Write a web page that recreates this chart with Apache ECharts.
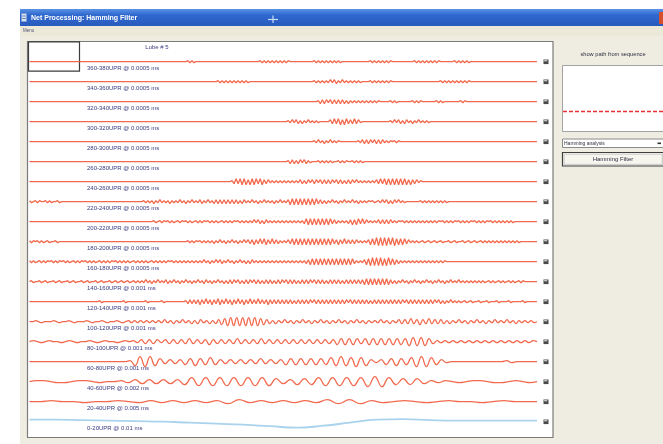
<!DOCTYPE html>
<html>
<head>
<meta charset="utf-8">
<script src="https://cdn.jsdelivr.net/npm/echarts@6/dist/echarts.min.js"></script>
<style>
  html, body { margin: 0; padding: 0; background: #ffffff; }
  #chart { width: 663px; height: 444px; }
</style>
</head>
<body>
<div id="chart"></div>
<script>
// Filtered band traces, one per UPR band (amplitudes in screen units, sampled evenly across the time window)
const traceLabels = [
  '360-380UPR @ 0.0005 ms', '340-360UPR @ 0.0005 ms', '320-340UPR @ 0.0005 ms',
  '300-320UPR @ 0.0005 ms', '280-300UPR @ 0.0005 ms', '260-280UPR @ 0.0005 ms',
  '240-260UPR @ 0.0005 ms', '220-240UPR @ 0.0005 ms', '200-220UPR @ 0.0005 ms',
  '180-200UPR @ 0.0005 ms', '160-180UPR @ 0.0005 ms', '140-160UPR @ 0.001 ms',
  '120-140UPR @ 0.001 ms', '100-120UPR @ 0.001 ms', '80-100UPR @ 0.001 ms',
  '60-80UPR @ 0.001 ms', '40-60UPR @ 0.002 ms', '20-40UPR @ 0.005 ms',
  '0-20UPR @ 0.01 ms'
];

const b360_380 = [
  0,0,0,0,0,0,0,0,0,0,0,0,0,0,0,0,0,0,0,0,0,0,0,0,0,
  0,0,0,0,0,0,0,0,0,0,0,0,0,0,0,0,0,0,0,0,0,0,0,0,0,
  0,0,0,0,0,0,0,0,0,0,0,0,0,0,0,0,0,0,0,0,0,0,0,0,0,
  0,0,0,0,1,-1,1,-1,0,0,0,0,0,0,0,0,0,0,0,0,0,0,0,0,0,
  0,0,0,0,0,0,0,0,0,0,0,0,0,0,0,1,-1,1,-1,1,-1,1,-1,1,-1,
  1,-1,1,-1,1,0,0,0,0,0,0,0,0,0,0,0,0,1,-1,1,-1,1,-1,1,-1,
  1,-1,1,-1,1,-1,0,0,0,0,0,0,0,0,0,0,0,0,0,0,1,-1,1,-1,1,
  -1,1,-1,1,-1,1,0,0,0,0,0,0,0,0,0,0,0,1,-1,1,-1,1,-1,1,-1,
  1,-1,1,-1,1,0,0,0,0,0,0,0,1,-1,1,-1,1,-1,1,-1,0,0,0,0,0,
  0,0,0,0,0,0,0,0,0,0,0,0,0,0,0,0,0,0,0,0,0,0,0,0,0,
  0,0,0,0
];
const b340_360 = [
  0,0,0,0,0,0,0,0,0,0,0,0,0,0,0,0,0,0,0,0,0,0,0,0,0,
  0,0,0,0,0,0,0,0,0,0,0,0,0,0,0,0,0,0,0,0,0,0,0,0,0,
  0,0,0,0,0,0,0,0,0,0,0,0,0,0,0,0,0,0,0,0,0,0,0,0,0,
  0,0,0,0,0,0,0,0,0,0,0,0,0,0,0,0,0,0,0,1,-1,1,-1,1,-1,
  1,-1,1,-1,1,-1,1,-1,1,-1,0,0,0,0,0,0,0,0,0,0,0,0,0,0,0,
  0,0,0,0,0,0,0,0,0,0,0,0,0,0,0,0,0,1,-1,1,-1,1,-1,1,-1,
  2,-1,2,-2,1,-1,2,-1,1,-1,1,-1,1,-1,1,-1,0,0,0,0,1,-1,1,-1,1,
  -1,1,-1,1,-1,1,0,0,0,0,0,0,0,0,0,0,0,0,0,0,0,0,0,0,0,
  0,0,0,0,0,1,-1,1,-1,1,-1,1,-1,1,-1,1,-1,1,-1,1,0,0,0,0,0,
  0,0,0,0,0,0,0,0,0,0,0,0,0,0,0,0,0,0,0,0,0,0,0,0,0,
  0,0,0,0
];
const b320_340 = [
  0,0,0,0,0,0,0,0,0,0,0,0,0,0,0,0,0,0,0,0,0,0,0,0,0,
  0,0,0,0,0,0,0,0,0,0,0,0,0,0,0,0,0,0,0,0,0,0,0,0,0,
  0,0,0,0,0,0,0,0,0,0,0,0,0,0,0,0,0,0,0,0,0,0,0,0,0,
  0,0,0,0,0,0,0,0,0,0,0,0,0,0,0,0,0,0,0,0,0,0,0,0,0,
  0,0,0,0,0,0,0,0,0,0,0,0,0,0,0,0,0,0,0,0,0,0,0,0,0,
  0,0,0,0,0,0,0,0,0,0,0,0,0,0,0,0,0,0,0,1,-2,2,-2,2,-1,
  2,-2,2,-2,2,-2,2,-2,1,-2,1,-1,1,-1,1,-1,1,-1,1,-1,1,-1,1,-1,1,
  0,0,0,0,0,1,-1,1,-1,0,0,0,0,0,0,0,1,-1,1,-1,1,0,0,0,0,
  0,0,0,1,-1,1,-1,0,0,0,0,0,0,0,0,1,-1,1,0,0,0,0,0,0,0,
  0,0,0,0,0,0,0,0,0,0,0,0,0,0,0,0,0,0,0,0,0,0,0,0,0,
  0,0,0,0
];
const b300_320 = [
  0,0,0,0,0,0,0,0,0,0,0,0,0,0,0,0,0,0,0,0,0,0,0,0,0,
  0,0,0,0,0,0,0,0,0,0,0,0,0,0,0,0,0,0,0,0,0,0,0,0,0,
  0,0,0,0,0,0,0,0,0,0,0,0,0,0,0,0,0,0,0,0,0,0,0,0,0,
  0,0,0,0,0,0,0,0,0,0,0,0,0,0,0,0,0,0,0,0,0,0,0,0,0,
  0,0,0,0,0,0,0,0,0,0,0,0,0,0,0,0,0,0,0,0,0,0,0,0,0,
  0,0,0,0,1,-1,2,-1,2,-2,1,-2,1,-1,2,-1,1,-1,1,-1,0,0,0,0,0,
  2,-2,3,-2,3,-3,2,-3,3,-2,2,-2,3,-2,2,-1,0,0,0,0,0,0,0,0,0,
  0,0,0,0,0,1,-1,2,-1,2,-2,1,-2,2,-1,1,-2,1,-1,2,-1,1,-1,1,-1,
  0,0,0,0,0,0,0,0,0,0,0,0,0,0,0,0,0,0,0,0,0,0,0,0,0,
  0,0,0,0,0,0,0,0,0,0,0,0,0,0,0,0,0,0,0,0,0,0,0,0,0,
  0,0,0,0
];
const b280_300 = [
  0,0,0,0,0,0,0,0,0,0,0,0,0,0,0,0,0,0,0,0,0,0,0,0,0,
  0,0,0,0,0,0,0,0,0,0,0,0,0,0,0,0,0,0,0,0,0,0,0,0,0,
  0,0,0,0,0,0,0,0,0,0,0,0,0,0,0,0,0,0,0,0,0,0,0,0,0,
  0,0,0,0,0,0,0,0,0,0,0,0,0,0,0,0,0,0,0,0,0,0,0,0,0,
  0,0,0,0,0,0,0,0,0,0,0,0,0,0,0,0,0,0,0,0,0,0,0,0,0,
  0,0,0,0,0,0,0,0,0,0,0,0,0,0,0,0,0,1,-1,2,-1,1,-2,1,-1,
  2,-1,1,-1,1,0,0,0,0,0,0,0,0,0,1,-1,2,-2,2,-2,2,-1,2,-2,2,
  -2,2,-1,1,-1,1,0,1,-1,1,0,0,0,0,0,0,0,0,0,0,0,0,0,0,0,
  0,0,0,0,0,0,0,0,0,0,0,0,0,0,0,0,0,0,0,0,0,0,0,0,0,
  0,0,0,0,0,0,0,0,0,0,0,0,0,0,0,0,0,0,0,0,0,0,0,0,0,
  0,0,0,0
];
const b260_280 = [
  0,0,0,0,0,0,0,0,0,0,0,0,0,0,0,0,0,0,0,0,0,0,0,0,0,
  0,0,0,0,0,0,0,0,0,0,0,0,0,0,0,0,0,0,0,0,0,0,0,0,0,
  0,0,0,0,0,0,0,0,0,0,0,0,0,0,0,0,0,0,0,0,0,0,0,0,0,
  0,0,0,0,0,0,0,0,0,0,0,0,0,0,0,0,0,0,0,0,0,0,0,0,0,
  0,0,0,0,0,0,0,0,0,0,0,0,0,0,0,0,0,0,0,0,0,0,0,0,0,
  0,0,0,0,1,-2,2,-2,1,-2,2,-1,2,-2,1,-1,0,0,0,1,-1,1,-1,1,-1,
  1,-1,0,0,1,-1,1,-1,1,0,0,1,-1,1,-1,1,-1,0,0,0,0,0,0,0,0,
  0,0,0,0,0,0,0,0,0,0,0,0,0,0,0,0,0,0,0,0,0,0,0,0,0,
  0,0,0,0,0,0,0,0,0,0,0,0,0,0,0,0,0,0,0,0,0,0,0,0,0,
  0,0,0,0,0,0,0,0,0,0,0,0,0,0,0,0,0,0,0,0,0,0,0,0,0,
  0,0,0,0
];
const b240_260 = [
  0,0,0,0,0,0,0,0,0,0,0,0,0,0,0,0,0,0,0,0,0,0,0,0,0,
  0,0,0,0,0,0,0,0,0,0,0,0,0,0,0,0,0,0,0,0,0,0,0,0,0,
  0,0,0,0,0,0,0,0,0,0,0,0,0,0,0,0,0,0,0,0,0,0,0,0,0,
  0,0,0,0,0,0,0,0,0,0,0,0,0,0,0,0,0,0,0,0,0,0,0,0,0,
  0,1,-2,3,-2,3,-3,3,-3,2,-3,3,-3,3,-2,3,-3,2,-2,2,-1,1,-1,1,-1,
  1,-1,1,-1,1,-1,1,-1,1,-1,2,-2,1,-2,2,-1,2,-2,2,-1,2,-2,2,-2,2,
  -2,2,-1,2,-2,2,-2,1,-2,2,-2,2,-1,2,-1,1,-1,1,-1,1,-1,1,-1,2,-2,
  3,-2,3,-3,3,-3,3,-3,3,-3,3,-3,3,-3,2,-3,2,-2,2,-1,1,0,0,0,0,
  0,0,0,0,0,0,0,0,0,0,0,0,0,0,0,0,0,0,0,0,0,0,0,0,0,
  0,0,0,0,0,0,0,0,0,0,0,0,0,0,0,0,0,0,0,0,0,0,0,0,0,
  0,0,0,0
];
const b220_240 = [
  1,-1,0,1,-1,1,0,0,1,-1,1,-1,0,0,1,-1,0,0,0,0,0,0,0,0,0,
  0,0,0,0,0,0,0,0,0,0,0,0,0,0,0,0,0,0,0,0,0,0,0,0,0,
  0,0,0,0,0,0,0,1,-1,1,-1,1,-2,1,-1,2,-1,1,-1,1,-2,1,-1,1,-1,
  2,-1,1,-2,1,-1,2,-1,1,-1,2,-2,1,-1,2,-1,1,-2,2,-2,2,-2,2,-2,2,
  -2,2,-2,2,-2,1,-2,2,-1,1,-1,2,-1,1,-2,1,-1,2,-1,1,-1,1,-2,1,-1,
  2,-1,1,-1,2,-3,3,-3,3,-3,3,-3,3,-3,3,-3,3,-3,3,-2,2,-2,1,-2,1,
  -1,2,-1,1,-2,1,-1,2,-1,1,-1,2,-1,1,-2,1,-1,1,-1,1,0,1,-1,0,1,
  -1,2,-1,2,-2,1,-2,2,-1,2,-1,1,-1,0,0,0,0,0,0,0,1,-1,1,-1,1,
  -1,1,-1,1,-1,1,-1,1,-1,0,0,0,0,0,0,0,0,0,0,0,0,0,0,0,0,
  0,0,0,0,0,0,0,0,0,0,0,0,0,0,0,0,0,0,0,0,0,0,0,0,0,
  0,0,0,0
];
const b200_220 = [
  0,0,0,0,0,0,0,0,0,0,0,0,0,0,0,0,0,0,0,0,0,0,0,0,0,
  0,0,0,0,0,0,0,0,0,0,0,0,0,0,0,0,0,0,0,0,0,0,0,0,0,
  0,0,0,0,0,0,0,0,0,0,0,0,1,-1,0,1,-1,1,0,1,-1,1,-1,0,1,
  -1,1,0,1,-1,1,-1,0,1,-1,1,-1,1,0,1,-1,1,-1,1,-1,0,1,-1,1,-1,
  1,-1,1,0,1,-1,1,-1,1,-1,1,-1,2,-1,2,-2,1,-2,2,-1,1,-1,1,-1,1,
  -1,1,-1,1,-1,1,-1,1,-1,1,-1,1,-2,3,-3,3,-3,3,-3,3,-3,3,-3,3,-3,
  3,-2,2,-2,1,-1,1,-1,1,-2,2,-3,2,-3,3,-2,3,-2,2,-1,1,-1,1,-1,2,
  -2,2,-2,2,-2,2,-1,1,-1,1,0,1,-1,1,-1,1,-1,1,-1,1,-1,1,-1,1,-1,
  1,-1,1,-1,1,0,1,-1,1,-1,1,-1,1,0,1,-1,1,-1,1,-1,1,0,1,-1,1,
  -1,1,-1,1,0,1,-1,1,-1,1,-1,1,-1,1,-1,1,-1,0,0,0,0,0,0,0,0,
  0,0,0,0
];
const b180_200 = [
  1,-1,1,0,1,-1,1,-1,0,1,-1,0,0,1,-1,0,0,0,0,0,0,0,0,0,0,
  0,0,0,0,0,0,0,0,0,0,0,0,0,0,0,0,0,0,0,0,0,0,0,0,0,
  0,0,0,0,0,0,0,0,0,0,0,0,0,0,0,0,0,0,0,0,0,0,0,0,0,
  0,0,0,0,1,-1,1,-1,1,0,1,-1,1,-1,1,-1,1,-2,1,-1,2,-1,1,-2,1,
  -1,2,-1,1,-2,1,-1,2,-1,2,-2,2,-3,2,-2,3,-2,3,-3,2,-2,3,-2,2,-2,
  1,-1,1,-1,2,-2,3,-3,3,-3,3,-3,3,-3,3,-3,3,-3,3,-3,3,-3,3,-3,3,
  -3,3,-2,2,-3,2,-2,3,-2,2,-2,2,-2,2,-1,1,-1,1,-1,2,-3,3,-3,4,-4,
  4,-4,4,-4,4,-3,4,-4,3,-3,3,-3,3,-2,2,-1,1,-1,1,-1,0,1,-1,0,1,
  -1,0,1,-1,0,1,-1,0,0,1,-1,0,1,-1,0,0,1,-1,0,1,-1,0,1,-1,0,
  1,-1,1,-1,1,-1,1,-1,1,-1,1,-1,1,-1,1,-1,1,-1,1,-1,0,0,0,0,0,
  0,0,0,0
];
const b160_180 = [
  1,-1,1,-1,0,1,-1,1,-1,1,0,1,-1,1,-1,1,0,1,-1,1,-1,0,1,-1,1,
  -1,1,0,1,-1,1,-1,1,-1,0,1,-1,1,-1,1,-1,1,0,1,-1,1,-1,1,-1,1,
  -1,0,1,-1,1,-1,1,-1,1,-1,0,1,-1,1,-1,1,-1,1,-1,1,0,1,-1,1,-1,
  1,-1,1,-1,1,-1,1,-1,1,-1,1,-1,2,-1,1,-2,1,-1,2,-1,2,-2,1,-1,2,
  -1,1,-2,1,-1,2,-1,1,-2,1,-2,2,-1,1,-1,1,-1,1,-1,1,-1,1,-1,1,-1,
  1,-1,1,-1,1,-1,1,-1,1,-1,1,-1,1,-2,2,-3,3,-3,3,-3,3,-3,3,-3,3,
  -3,3,-3,3,-3,3,-3,3,-3,3,-3,3,-2,1,-1,1,-1,2,-3,3,-4,4,-4,4,-4,
  4,-4,3,-4,4,-3,3,-3,2,-2,1,-1,1,-1,1,-1,1,-1,1,-1,1,-1,1,-1,1,
  -1,1,-1,1,-1,1,-1,1,0,0,0,0,0,0,0,0,0,0,0,0,0,0,0,0,0,
  0,0,0,0,0,0,0,0,0,0,0,0,0,0,0,0,0,0,0,0,0,0,0,0,0,
  0,0,0,0
];
const b140_160 = [
  0,1,-1,0,0,1,-1,0,1,-1,0,0,1,-1,0,1,-1,0,0,1,-1,0,1,-1,0,
  0,1,-1,0,1,-1,0,0,1,-1,0,1,-1,0,0,1,-1,0,1,-1,0,1,-1,0,1,
  -1,0,1,-1,1,-1,1,-1,2,-1,1,-2,1,-1,2,-1,1,-1,2,-2,1,-1,2,-1,1,
  -2,1,-1,2,-1,1,-2,1,-1,2,-1,1,-2,2,-1,1,-2,1,-1,2,-1,1,-2,1,-2,
  2,-2,2,-1,2,-2,1,-2,2,-2,2,-1,2,-2,2,-2,1,-2,2,-2,2,-2,1,-2,2,
  -2,2,-1,2,-2,2,-2,2,-2,1,-2,2,-2,2,-2,2,-1,2,-2,2,-2,2,-2,1,-2,
  2,-2,2,-2,2,-2,1,-2,2,-2,2,-2,2,-2,2,-2,2,-3,3,-3,3,-3,3,-3,3,
  -3,3,-3,3,-3,2,-2,1,-2,1,-1,2,-1,1,-2,1,-1,2,-1,1,-2,1,-1,2,-1,
  1,-2,1,-1,2,-1,1,-2,1,-1,2,-1,1,-1,2,-1,1,-1,1,-1,1,-1,1,-1,1,
  -1,1,-1,0,1,-1,1,-1,0,1,-1,1,-1,0,1,-1,1,-1,0,1,-1,1,0,0,0,
  0,0,0,0
];
const b120_140 = [
  0,0,0,0,0,0,0,0,0,0,0,0,0,0,0,0,0,0,0,0,0,0,0,0,0,
  0,0,0,0,0,0,0,0,0,0,1,-1,0,0,0,0,0,0,0,0,0,0,1,-1,0,
  0,0,0,0,0,0,0,0,1,-1,0,0,0,0,0,0,1,-1,0,0,0,0,0,0,0,
  0,0,0,1,-2,2,-2,2,-2,2,-3,2,-2,3,-2,2,-3,2,-2,3,-3,2,-2,3,-2,
  2,-3,2,-2,3,-2,2,-3,2,-2,3,-2,2,-2,3,-2,2,-2,2,-3,2,-2,2,-2,2,
  -2,2,-2,2,-2,2,-2,1,-2,2,-2,2,-2,2,-2,2,-1,2,-2,2,-2,2,-2,2,-2,
  2,-2,2,-2,2,-2,2,-2,2,-1,2,-2,2,-2,2,-2,2,-2,2,-2,1,-2,2,-2,2,
  -2,2,-2,2,-2,2,-2,2,-2,2,-2,2,-1,2,-2,2,-2,2,-2,2,-2,2,-2,2,-2,
  2,-2,2,-1,2,-2,1,-2,1,-1,2,-1,1,-1,1,-1,0,1,-1,0,1,-1,0,0,1,
  -1,0,0,1,-1,0,0,0,1,-1,0,0,0,0,1,-1,0,0,0,0,0,1,-1,0,0,
  0,0,0,0
];
const b100_120 = [
  0,0,1,0,-1,0,0,0,1,0,-1,0,0,1,0,-1,0,0,0,1,0,-1,0,0,1,
  0,-1,0,0,1,0,-1,0,1,-1,1,-1,1,-1,1,-1,1,-1,1,-1,2,-1,1,-2,1,
  -1,2,-1,1,-2,1,-2,2,-1,1,-2,1,-2,2,-3,3,-4,4,-4,4,-4,4,-4,4,-4,
  4,-4,3,-3,2,-2,1,-2,1,-1,2,-1,1,-2,1,-1,2,-1,1,-2,1,-1,2,-1,1,
  -2,1,-1,2,-1,1,-2,1,-1,2,-1,1,-2,1,-1,1,-1,2,-1,1,-2,1,-1,2,-2,
  2,-2,3,-2,2,-3,2,-2,3,-2,2,-2,2,-2,1,-2,1,-1,2,-1,1,-2,1,-1,2,
  -1,1,-2,1,-1,2,-1,1,-1,2,-1,1,-2,1,-1,1,-1,1,-1,0
];
const b80_100 = [
  0,1,0,-1,0,1,0,0,-1,0,1,0,-1,0,0,1,0,-1,0,1,0,0,-1,0,1,
  0,1,-1,2,-2,2,-2,2,-1,2,-2,2,-2,2,-2,3,-2,2,-2,2,-3,2,-2,2,-2,
  2,-2,3,-2,2,-2,2,-2,3,-2,2,-2,2,-2,2,-2,2,-2,2,-2,2,-2,2,-2,2,
  -2,2,-3,3,-3,3,-3,3,-2,3,-3,3,-3,3,-3,3,-3,3,-3,3,-4,4,-4,4,-4,
  3,-2,1,-1,1,-1,1,-1,1,-1,1,-1,1,-1,1,-1,1,-1,1,-1,1,-1,1,-1,1,
  -1,1,0
];
const b60_80 = [
  0,0,0,0,0,0,0,0,0,0,0,0,0,0,0,0,0,0,0,0,1,-4,5,-5,5,
  -4,3,-2,2,-2,2,-3,3,-4,3,-3,4,-3,2,-2,2,-2,2,-2,2,-2,3,-2,2,-2,
  2,-3,3,-3,3,-3,3,-3,3,-3,4,-4,5,-4,4,-5,4,-4,2,-1,2,-3,3,-4,3,
  -3,4,-5,5,-5,4,-3,2,-1,0,0,0,0,0,0,0,0,0,0,0,1,-1,0,0,0,
  0,0
];
const b40_60 = [
  0,1,1,0,-1,-1,0,1,1,0,-1,0,0,1,-1,2,-2,2,-2,2,-2,2,-3,4,-4,
  4,-4,4,-4,4,-4,4,-4,4,-4,3,-2,2,-3,3,-3,4,-4,4,-4,4,-4,4,-5,5,
  -5,4,-3,3,-3,3,-2,1,-1,1,0,-1,0,1,1,0,-1,-1,0,1,0,-1,0
];
const b20_40 = [
  0,0,1,0,0,-1,0,0,1,0,-1,1,-1,1,-1,1,-1,1,-2,2,-1,1,-1,1,-1,
  1,-1,2,-2,2,-2,1,-1,0,1,0,-1,0,1,0,0,-1,0,1,0,0,0
];
const b0_20 = [2, 2, 1.5, 1, 0.5, 0, -1, -2, -3, -4.5, -6, -4, -1, 2, 2.5, 1.5, 1, 1, 1, 1];

// Preview strip in the side panel
const pathSeq = [0, 0, 0, 0, 0, 0, 0, 0, 0, 0, 0, 0];

const traces = [
  b360_380, b340_360, b320_340, b300_320, b280_300, b260_280, b240_260,
  b220_240, b200_220, b180_200, b160_180, b140_160, b120_140, b100_120,
  b80_100, b60_80, b40_60, b20_40, b0_20
];

// ---- layout ----
const ROW_TOP = 61.7, ROW_GAP = 20, PLOT_L = 29.5, PLOT_W = 507.5, ROW_H = 20;
const FONT = '"Liberation Sans", Arial, sans-serif';
const TRACE_RED = '#f05d3f';
const TRACE_BLUE = '#a9d3ec';

const grids = [], xAxes = [], yAxes = [], series = [];
traces.forEach((vals, k) => {
  const yc = ROW_TOP + ROW_GAP * k;
  grids.push({ left: PLOT_L, top: yc - ROW_H / 2, width: PLOT_W, height: ROW_H });
  xAxes.push({ type: 'category', gridIndex: k, boundaryGap: false, show: false,
               data: vals.map((_, i) => i) });
  yAxes.push({ type: 'value', gridIndex: k, min: -10, max: 10, show: false });
  const last = k === traces.length - 1;
  // low-frequency bands are drawn as rounded waves, fine bands as plain polylines
  const smooth = last ? true : (k >= 13 ? 0.45 : false);
  series.push({
    type: 'line', xAxisIndex: k, yAxisIndex: k, data: vals,
    symbol: 'none', smooth: smooth, silent: true,
    lineStyle: { color: last ? TRACE_BLUE : TRACE_RED, width: last ? 1.8 : 1.3, opacity: last ? 1 : 0.92 }
  });
});

// side-panel preview chart
const pIdx = traces.length;
grids.push({ left: 563, top: 66, width: 100, height: 65 });
xAxes.push({ type: 'category', gridIndex: pIdx, boundaryGap: false, show: false,
             data: pathSeq.map((_, i) => i) });
yAxes.push({ type: 'value', gridIndex: pIdx, min: -0.6, max: 1.4, show: false });
series.push({
  type: 'line', xAxisIndex: pIdx, yAxisIndex: pIdx, data: pathSeq,
  symbol: 'none', silent: true,
  lineStyle: { color: '#e8323a', width: 1.6, type: [4, 2] }
});

function txt(x, y, text, size, color, align, bold) {
  return {
    type: 'text', x: x, y: y, silent: true,
    style: {
      text: text, fill: color,
      font: (bold ? 'bold ' : '') + size + 'px ' + FONT,
      align: align || 'left', verticalAlign: 'middle',
      textAlign: align || 'left', textVerticalAlign: 'middle'
    }
  };
}

const g = [];
// window body
g.push({ type: 'rect', shape: { x: 20, y: 9, width: 643, height: 435 }, style: { fill: '#efede2' }, silent: true });
// title bar
g.push({ type: 'rect', shape: { x: 20, y: 9, width: 643, height: 17 }, silent: true,
  style: { fill: { type: 'linear', x: 0, y: 0, x2: 0, y2: 1, colorStops: [
    { offset: 0, color: '#5a93e4' }, { offset: 0.35, color: '#2f68cf' }, { offset: 1, color: '#2a5abd' } ] } } });
g.push({ type: 'rect', shape: { x: 21.5, y: 13.5, width: 5, height: 8 }, style: { fill: '#d9e4f5', stroke: '#7f9cc9', lineWidth: 0.6 }, silent: true });
g.push({ type: 'rect', shape: { x: 22.3, y: 15.5, width: 3.4, height: 1 }, style: { fill: '#5c7fb8' }, silent: true });
g.push({ type: 'rect', shape: { x: 22.3, y: 18, width: 3.4, height: 1 }, style: { fill: '#5c7fb8' }, silent: true });
g.push(txt(31, 17.8, 'Net Processing: Hamming Filter', 7, '#ffffff', 'left', true));
// pointer cross in the title bar
g.push({ type: 'line', shape: { x1: 268, y1: 19.5, x2: 278, y2: 19.5 }, style: { stroke: '#c9dcf3', lineWidth: 1.2 }, silent: true });
g.push({ type: 'line', shape: { x1: 273, y1: 15.5, x2: 273, y2: 23 }, style: { stroke: '#c9dcf3', lineWidth: 1.2 }, silent: true });
// close button
g.push({ type: 'rect', shape: { x: 659, y: 12, width: 5, height: 12 }, style: { fill: '#d4502d' }, silent: true });
// menu bar
g.push({ type: 'rect', shape: { x: 20, y: 26, width: 643, height: 10 }, style: { fill: '#ece9d8' }, silent: true });
g.push(txt(23, 31, 'Menu', 4.5, '#54547a'));
// main trace panel
g.push({ type: 'rect', shape: { x: 27.5, y: 41.5, width: 525.5, height: 396 }, style: { fill: '#ffffff', stroke: '#7b7b7b', lineWidth: 1.2 }, silent: true });
g.push({ type: 'rect', shape: { x: 28.5, y: 41.8, width: 51, height: 29.3 }, style: { fill: 'none', stroke: '#3c3c3c', lineWidth: 1.2 }, silent: true });
g.push(txt(157, 47, 'Lobe # 5', 6, '#3c3c82', 'center'));

traceLabels.forEach((label, k) => {
  const yc = ROW_TOP + ROW_GAP * k;
  g.push(txt(87, yc + 6.8, label, 6, '#3c3c82'));
  // per-trace toggle icon
  g.push({ type: 'rect', shape: { x: 543.5, y: yc - 2.2, width: 5, height: 4.6 }, style: { fill: '#4a4a4a' }, silent: true });
  g.push({ type: 'rect', shape: { x: 544.2, y: yc - 1.6, width: 3, height: 1.2 }, style: { fill: '#d8d8d8' }, silent: true });
});

// side panel
g.push(txt(613, 54, 'show path from sequence', 5.7, '#2e2e40', 'center'));
g.push({ type: 'rect', shape: { x: 562.5, y: 65.5, width: 101, height: 66 }, style: { fill: '#ffffff', stroke: '#a3a3a3', lineWidth: 1 }, silent: true });
g.push({ type: 'rect', shape: { x: 562.5, y: 139, width: 101, height: 8.5 }, style: { fill: '#ffffff', stroke: '#8a8a8a', lineWidth: 1 }, silent: true });
g.push(txt(564, 143.3, 'Hamming analysis', 5, '#2e2e40'));
g.push({ type: 'rect', shape: { x: 657.5, y: 142.5, width: 3.5, height: 1.6 }, style: { fill: '#333333' }, silent: true });
g.push({ type: 'rect', shape: { x: 562.5, y: 152.5, width: 101, height: 13.5 }, style: { fill: '#f6f5ee', stroke: '#3f3f3f', lineWidth: 1.2 }, silent: true });
g.push({ type: 'rect', shape: { x: 564.2, y: 154.2, width: 98, height: 10.2 }, style: { fill: 'none', stroke: '#c2c2c2', lineWidth: 0.8 }, silent: true });
g.push(txt(613, 159.5, 'Hamming Filter', 6, '#2e2e40', 'center'));

const chart = echarts.init(document.getElementById('chart'), null, { renderer: 'canvas', devicePixelRatio: 1 });
chart.setOption({
  animation: false,
  backgroundColor: '#ffffff',
  graphic: { elements: g },
  grid: grids,
  xAxis: xAxes,
  yAxis: yAxes,
  series: series
});
</script>
</body>
</html>
